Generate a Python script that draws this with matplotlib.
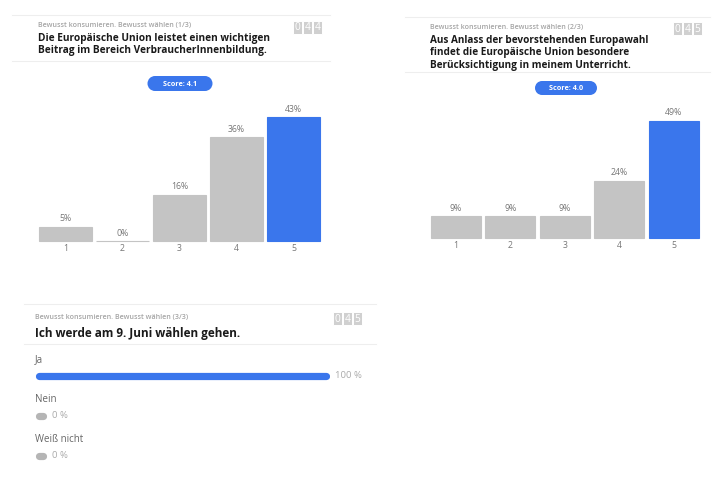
import matplotlib
matplotlib.use('Agg')
import matplotlib.pyplot as plt
from matplotlib.patches import Rectangle, Ellipse

plt.rcParams['font.family'] = ['Open Sans', 'DejaVu Sans']

W, H = 725, 479

# data
section = "Bewusst konsumieren. Bewusst wählen"
q1_title = "Die Europäische Union leistet einen wichtigen\nBeitrag im Bereich VerbraucherInnenbildung."
q1_cats = ["1", "2", "3", "4", "5"]
q1_vals = [5, 0, 16, 36, 43]
q1_score = 4.1
q1_count = "044"

q2_title = "Aus Anlass der bevorstehenden Europawahl\nfindet die Europäische Union besondere\nBerücksichtigung in meinem Unterricht."
q2_cats = ["1", "2", "3", "4", "5"]
q2_vals = [9, 9, 9, 24, 49]
q2_score = 4.0
q2_count = "045"

q3_title = "Ich werde am 9. Juni wählen gehen."
q3_opts = ["Ja", "Nein", "Weiß nicht"]
q3_vals = [100, 0, 0]
q3_count = "045"

BLUE = '#3a76ec'
GRAY = '#c4c4c4'
LINE = '#eeeeee'

fig = plt.figure(figsize=(W / 100, H / 100), dpi=100)
fig.patch.set_facecolor('white')


def fx(x):
    return x / W


def fy(y):
    return 1 - y / H


def txt(x, y, s, **kw):
    fig.text(fx(x), fy(y), s, **kw)


def hline(x0, x1, y):
    fig.add_artist(plt.Line2D([fx(x0), fx(x1)], [fy(y), fy(y)], color=LINE, lw=0.8))


def counter(x, y, digits):
    # little gray boxes with white digits
    bw, bh = 9, 13
    for i, d in enumerate(digits):
        x0 = x + i * (bw + 1)
        fig.add_artist(Rectangle((fx(x0), fy(y + bh)), bw / W, bh / H,
                                 facecolor='#d0d0d0', edgecolor='white', lw=0.7,
                                 transform=fig.transFigure))
        txt(x0 + bw / 2, y + bh / 2 + 0.5, d, color='white', fontsize=7.3,
            ha='center', va='center')


def pill(cx, cy, w, h, label):
    fig.add_artist(Rectangle((fx(cx - w / 2 + h / 2), fy(cy + h / 2)), (w - h) / W, h / H,
                             color=BLUE, transform=fig.transFigure, lw=0))
    for ex in (cx - w / 2 + h / 2, cx + w / 2 - h / 2):
        fig.add_artist(Ellipse((fx(ex), fy(cy)), h / W, h / H, lw=0,
                               color=BLUE, transform=fig.transFigure))
    txt(cx, cy + 0.5, label, color='white', fontsize=5.2, fontweight='bold',
        ha='center', va='center')


def bar_chart(x0, x1, top, base, scale, cats, vals, width):
    ax = fig.add_axes([fx(x0), fy(base), (x1 - x0) / W, (base - top) / H])
    colors = [GRAY] * (len(vals) - 1) + [BLUE]
    pos = range(1, len(vals) + 1)
    bars = ax.bar(pos, vals, width=width, color=colors, edgecolor=colors, linewidth=0.8,
                  clip_on=False)
    for b, v in zip(bars, vals):
        ax.annotate(f"{v}%", (b.get_x() + b.get_width() / 2, v), xytext=(0, 2.5),
                    textcoords='offset points', ha='center', va='bottom',
                    fontsize=6.3, color='#777777')
    ax.set_xlim(0.5, len(vals) + 0.5)
    ax.set_ylim(0, (base - top) / scale)
    ax.set_xticks(list(pos))
    ax.set_xticklabels(cats, fontsize=6.3, color='#777777')
    ax.tick_params(axis='x', length=0, pad=2.5)
    ax.set_yticks([])
    for s in ax.spines.values():
        s.set_visible(False)
    ax.patch.set_alpha(0)


# panel 1
hline(12, 330, 15)
txt(38, 25, f"{section} (1/3)", fontsize=5.1, color='#a5a5a5', fontweight='semibold', va='center')
txt(38, 44.5, q1_title, fontsize=7.3, fontweight='bold', color='#1a1a1a', va='center',
    linespacing=1.2)
hline(12, 330, 61)
counter(293, 21, q1_count)
pill(180, 83.5, 65, 15, f"Score: {q1_score}")
bar_chart(37, 322, 100, 241, 2.88, q1_cats, q1_vals, 0.93)

# panel 2
hline(405, 710, 17)
txt(430, 27, f"{section} (2/3)", fontsize=5.1, color='#a5a5a5', fontweight='semibold', va='center')
txt(430, 53, q2_title, fontsize=7.2, fontweight='bold', color='#1a1a1a', va='center',
    linespacing=1.2)
hline(405, 710, 72)
counter(673, 22, q2_count)
pill(566, 88, 62, 14, f"Score: {q2_score}")
bar_chart(428.5, 701, 100, 238, 2.39, q2_cats, q2_vals, 0.92)

# panel 3
hline(24, 376, 304)
txt(35, 317, f"{section} (3/3)", fontsize=5.1, color='#a5a5a5', fontweight='semibold', va='center')
txt(35, 333, q3_title, fontsize=8.5, fontweight='bold', color='#1a1a1a', va='center')
hline(24, 376, 344)
counter(333, 312, q3_count)

label_y = [360, 400, 440]
bar_y = [376, 416, 456]
ax3 = fig.add_axes([fx(35), fy(470), (330 - 35) / W, (470 - 350) / H])
ax3.set_xlim(-1.25, 101.25)
ax3.set_ylim(470, 350)
ax3.axis('off')
for opt, v, ly, by in zip(q3_opts, q3_vals, label_y, bar_y):
    txt(35, ly, opt, fontsize=7, color='#666666', va='center')
    c = BLUE if v > 0 else '#b5b5b5'
    end = max(v, 1.6)
    ax3.plot([0, end], [by, by], color=c, lw=5.2, solid_capstyle='round')
    ax3.annotate(f"{v} %", (end, by), xytext=(6.5, 0), textcoords='offset points',
                 fontsize=6.8, color='#aaaaaa', va='center')

fig.savefig('out.png', dpi=100, facecolor='white')
